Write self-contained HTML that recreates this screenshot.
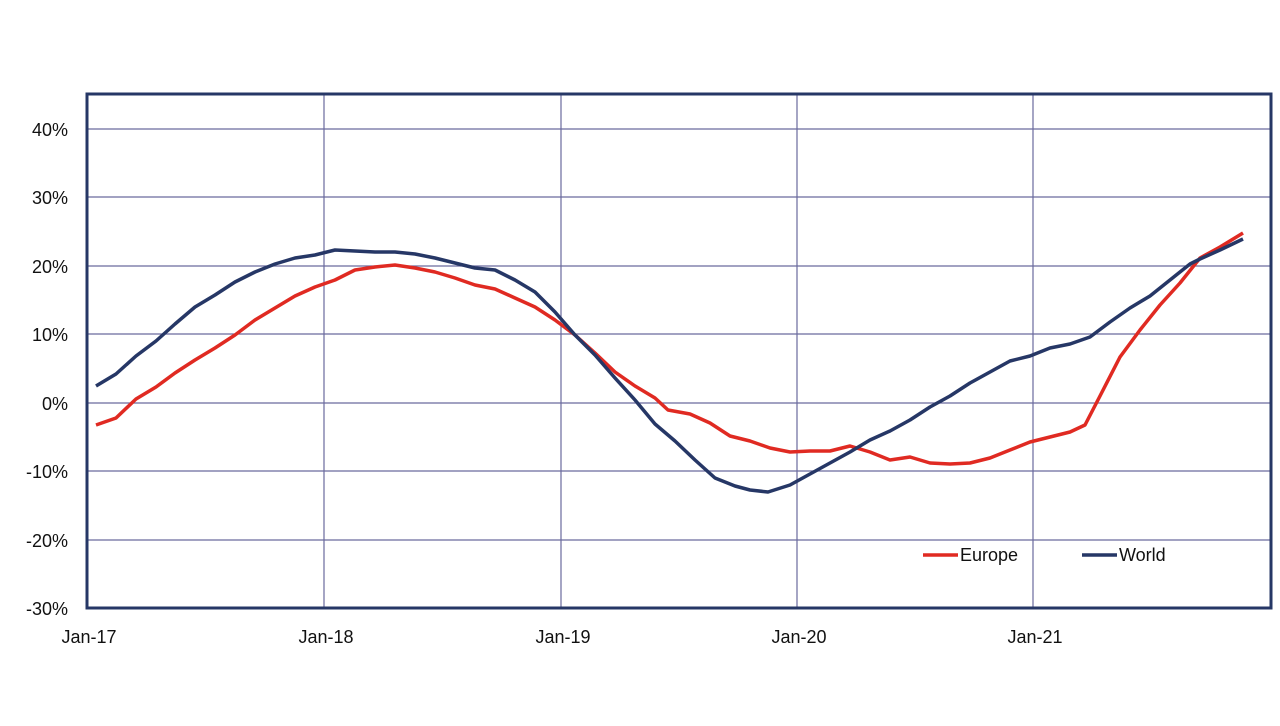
<!DOCTYPE html>
<html><head><style>body{margin:0;background:#fff}</style></head><body>
<svg width="1280" height="721" viewBox="0 0 1280 721" xmlns="http://www.w3.org/2000/svg" font-family="Liberation Sans, sans-serif" font-size="18" fill="#111">
<g stroke="#6a6a9e" stroke-width="1.2">
<line x1="87" y1="129" x2="1271" y2="129"/><line x1="87" y1="197" x2="1271" y2="197"/><line x1="87" y1="266" x2="1271" y2="266"/><line x1="87" y1="334" x2="1271" y2="334"/><line x1="87" y1="403" x2="1271" y2="403"/><line x1="87" y1="471" x2="1271" y2="471"/><line x1="87" y1="540" x2="1271" y2="540"/>
<line x1="324" y1="94" x2="324" y2="608"/><line x1="561" y1="94" x2="561" y2="608"/><line x1="797" y1="94" x2="797" y2="608"/><line x1="1033" y1="94" x2="1033" y2="608"/>
</g>
<rect x="87" y="94" width="1184" height="514" fill="none" stroke="#263766" stroke-width="3"/>
<g text-anchor="end">
<text x="68" y="136">40%</text><text x="68" y="204">30%</text><text x="68" y="273">20%</text><text x="68" y="341">10%</text><text x="68" y="410">0%</text><text x="68" y="478">-10%</text><text x="68" y="547">-20%</text><text x="68" y="615">-30%</text>
</g>
<g text-anchor="middle">
<text x="89" y="643">Jan-17</text><text x="326" y="643">Jan-18</text><text x="563" y="643">Jan-19</text><text x="799" y="643">Jan-20</text><text x="1035" y="643">Jan-21</text>
</g>
<polyline fill="none" stroke="#e02a22" stroke-width="3.5" stroke-linejoin="round" points="96,425 116,418 136,399 156,387 175,373 195,360 215,348 235,335 255,320 275,308 295,296 315,287 335,280 355,270 375,267 395,265 415,268 435,272 455,278 475,285 495,289 515,298 535,307 555,320 575,335 595,353 615,372 635,386 655,398 668,410 690,414 710,423 730,436 750,441 770,448 790,452 810,451 830,451 850,446 870,452 890,460 910,457 930,463 950,464 970,463 990,458 1010,450 1030,442 1050,437 1070,432 1085,425 1100,396 1120,357 1140,330 1160,305 1180,283 1200,258 1220,247 1243,233"/>
<polyline fill="none" stroke="#263766" stroke-width="3.5" stroke-linejoin="round" points="96,386 116,374 136,356 156,341 175,324 195,307 215,295 235,282 255,272 275,264 295,258 315,255 335,250 355,251 375,252 395,252 415,254 435,258 455,263 475,268 495,270 515,280 535,292 555,312 575,335 595,355 615,378 635,400 655,424 675,441 695,460 715,478 735,486 750,490 768,492 790,485 810,474 830,463 850,452 870,440 890,431 910,420 930,407 950,396 970,383 990,372 1010,361 1030,356 1050,348 1070,344 1090,337 1110,322 1130,308 1150,296 1170,280 1190,264 1200,259 1220,250 1243,239"/>
<line x1="923" y1="555" x2="958" y2="555" stroke="#e02a22" stroke-width="3.5"/>
<text x="960" y="561">Europe</text>
<line x1="1082" y1="555" x2="1117" y2="555" stroke="#263766" stroke-width="3.5"/>
<text x="1119" y="561">World</text>
</svg>
</body></html>
